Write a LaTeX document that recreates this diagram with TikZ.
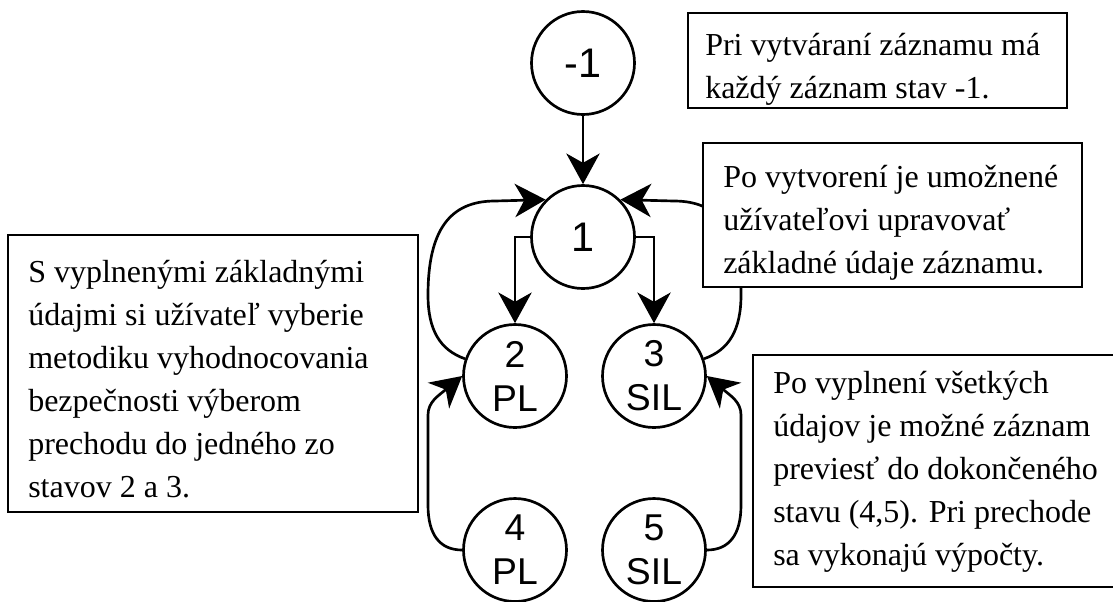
\documentclass[tikz,border=0pt]{standalone}
\usepackage{fontspec}
\setmainfont{Liberation Serif}
\newfontfamily\lsans{Liberation Sans}
\usetikzlibrary{arrows.meta}
\begin{document}
\begin{tikzpicture}[x=0.75pt,y=-0.75pt,
  stnode/.style={circle,draw,line width=2pt,minimum size=77.25pt,inner sep=0pt,
    font=\lsans\fontsize{31}{36}\selectfont},
  stnodeii/.style={stnode,align=center,font=\lsans\fontsize{28}{33}\selectfont},
  conn/.style={line width=2pt,-{Stealth[length=23pt,width=25pt,inset=7pt]}},
  box/.style={draw,fill=white,line width=0.8pt,inner sep=0pt},
  txt/.style={inner sep=0pt,align=left,anchor=base west,
    font=\fontsize{24}{32.25}\selectfont}]
\useasboundingbox (0,0) rectangle (1113,601);
\fill[white] (0,0) rectangle (1113,601);

% states
\node[stnode] (m1) at (583,63) {-1};
\node[stnode] (s1) at (583,237) {1};
\node[stnodeii] (s2) at (515,376) {2\\PL};
\node[stnodeii] (s3) at (654,376) {3\\SIL};
\node[stnodeii] (s4) at (515,550) {4\\PL};
\node[stnodeii] (s5) at (654,550) {5\\SIL};

% connectors
\draw[conn] (m1) -- (s1);
\draw[conn] (s1.west) -| (s2.north);
\draw[conn] (s1.east) -| (s3.north);
\draw[conn] (s2.161) .. controls (440,350) and (428,330) .. (428,295)
  .. controls (428,230) and (450,201) .. (495,201) -- (s1.135);
\draw[conn] (s3.19) .. controls (729,350) and (741,330) .. (741,295)
  .. controls (741,230) and (719,201) .. (674,201) -- (s1.45);
\draw[conn] (s4.west) .. controls (440,550) and (428,535) .. (428,505)
  -- (428,415) .. controls (428,402) and (438,396) .. (s2.west);
\draw[conn] (s5.east) .. controls (729,550) and (741,535) .. (741,505)
  -- (741,415) .. controls (741,402) and (731,396) .. (s3.east);

% text boxes (text anchored at the baseline of its last line)
\node[box,minimum width=284.25pt,minimum height=71.25pt] (b1) at (877.5,60.5) {};
\node[txt] (t1) at (705,98) {Pri vytváraní záznamu má\\každý záznam stav -1.};

\node[box,minimum width=284.25pt,minimum height=108pt] (b2) at (892.5,215) {};
\node[txt] (t2) at (723,273) {Po vytvorení je umožnené\\užívateľovi upravovať\\základné údaje záznamu.};

\node[box,minimum width=307.5pt,minimum height=207.75pt] (b3) at (213,373.5) {};
\node[txt] (t3) at (28,497) {S vyplnenými základnými\\údajmi si užívateľ vyberie\\metodiku vyhodnocovania\\bezpečnosti výberom\\prechodu do jedného zo\\stavov 2 a 3.};

\node[box,minimum width=273.75pt,minimum height=174pt] (b4) at (935.5,471) {};
\node[txt] (t4) at (773,565) {Po vyplnení všetkých\\údajov je možné záznam\\previesť do dokončeného\\stavu (4,5). Pri prechode\\sa vykonajú výpočty.};
\end{tikzpicture}
\end{document}
